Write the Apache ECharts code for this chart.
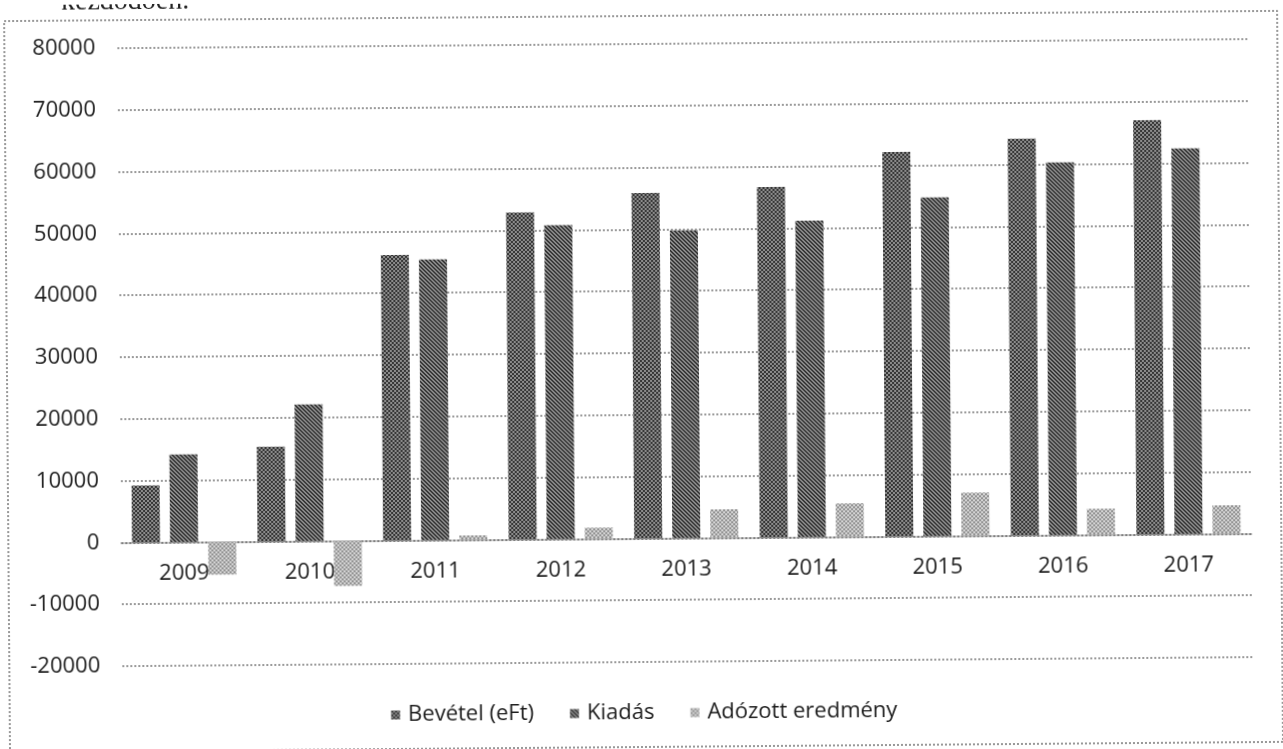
<!DOCTYPE html>
<html>
<head>
<meta charset="utf-8">
<script src="https://cdn.jsdelivr.net/npm/echarts@6/dist/echarts.min.js"></script>
<style>
  html, body { margin: 0; padding: 0; background: #ffffff; }
  #chart { width: 1283px; height: 749px; transform: rotate(-0.46deg); transform-origin: 50% 50%; }
</style>
</head>
<body>
<div id="chart"></div>
<script>
// ---- data ----
const years = ['2009', '2010', '2011', '2012', '2013', '2014', '2015', '2016', '2017'];
const seriesNames = ['Bevétel (eFt)', 'Kiadás', 'Adózott eredmény'];
const bevetel = [9200, 15300, 46200, 52900, 55900, 56700, 62200, 64200, 67000];
const kiadas = [14200, 22100, 45400, 50800, 49800, 51200, 54800, 60300, 62400];
const adozott = [-5300, -7300, 700, 1800, 4600, 5400, 7000, 4200, 4600];
const yMin = -20000;
const yMax = 80000;
const yStep = 10000;
const headerText = 'kezdődően.';

// ---- halftone-like patterns ----
function makePattern(bg, fg, kind) {
  const c = document.createElement('canvas');
  c.width = 4; c.height = 4;
  const g = c.getContext('2d');
  g.fillStyle = bg; g.fillRect(0, 0, 4, 4);
  g.fillStyle = fg;
  if (kind === 'checker') {
    g.fillRect(0, 0, 2, 2); g.fillRect(2, 2, 2, 2);
  } else if (kind === 'diag') {
    for (let i = 0; i < 4; i++) { g.fillRect(i, i, 1, 1); g.fillRect((i + 1) % 4, i, 1, 1); }
  }
  return { image: c, repeat: 'repeat' };
}
const patBev = makePattern('#8c8c8c', '#363636', 'checker');
const patKia = makePattern('#969696', '#2c2c2c', 'diag');
const patAdo = makePattern('#d4d4d4', '#939393', 'checker');

const FONT = '"Open Sans", "Liberation Sans", sans-serif';
const TEXT_COLOR = '#1c1c1c';
const gridLine = { color: '#7a7a7a', width: 1.5, type: [2, 2] };

const GRID_TOP = 44, GRID_H = 618;
const zeroFromBottom = GRID_H * (0 - yMin) / (yMax - yMin);

const chart = echarts.init(document.getElementById('chart'), null, { renderer: 'canvas' });
chart.setOption({
  animation: false,
  backgroundColor: '#ffffff',
  textStyle: { fontFamily: FONT },
  graphic: [
    {
      type: 'rect',
      shape: { x: 7, y: 16, width: 1273, height: 731 },
      style: { fill: 'none', stroke: '#777777', lineWidth: 1.5, lineDash: [2, 2] },
      silent: true, z: -1
    },
    {
      type: 'text',
      x: 64, y: 12,
      style: { text: headerText, font: '28px "Liberation Serif", serif', fill: '#222222', verticalAlign: 'bottom' },
      silent: true
    }
  ],
  legend: {
    data: seriesNames,
    bottom: 20,
    left: 'center',
    icon: 'rect',
    itemWidth: 9,
    itemHeight: 9,
    itemGap: 36,
    textStyle: { fontSize: 22, color: TEXT_COLOR, fontFamily: FONT, padding: [0, 0, 0, 3] }
  },
  grid: { left: 120, width: 1130, top: GRID_TOP, height: GRID_H, containLabel: false },
  xAxis: {
    type: 'category',
    data: years,
    position: 'bottom',
    offset: -zeroFromBottom,
    axisLine: { show: true, onZero: false, lineStyle: gridLine },
    axisTick: { show: false },
    axisLabel: { fontSize: 22, color: TEXT_COLOR, margin: 20, fontFamily: FONT }
  },
  yAxis: {
    type: 'value',
    min: yMin, max: yMax, interval: yStep,
    axisLine: { show: false },
    axisTick: { show: false },
    axisLabel: { fontSize: 22, color: TEXT_COLOR, margin: 22, fontFamily: FONT, formatter: function (v) { return String(v); } },
    splitLine: { show: true, lineStyle: gridLine }
  },
  series: [
    { name: seriesNames[0], type: 'bar', data: bevetel, barWidth: 28, barGap: '36%', itemStyle: { color: patBev } },
    { name: seriesNames[1], type: 'bar', data: kiadas, barWidth: 28, barGap: '36%', itemStyle: { color: patKia } },
    { name: seriesNames[2], type: 'bar', data: adozott, barWidth: 28, barGap: '36%', itemStyle: { color: patAdo } }
  ]
});
</script>
</body>
</html>
